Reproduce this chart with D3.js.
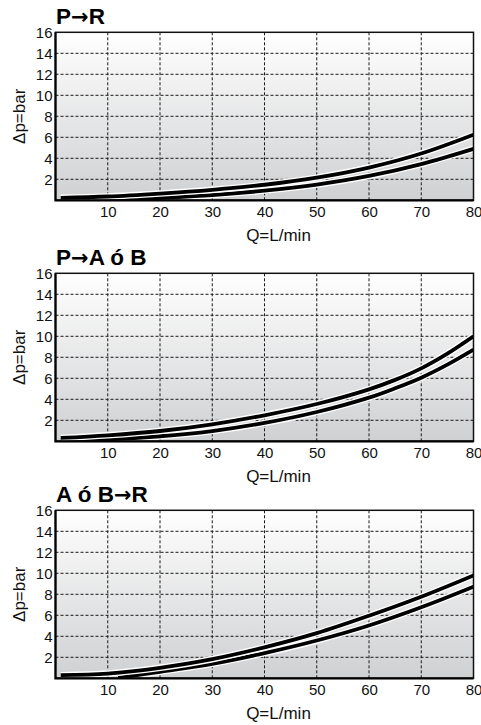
<!DOCTYPE html>
<html>
<head>
<meta charset="utf-8">
<script src="https://cdn.jsdelivr.net/npm/d3@7"></script>
<style>
  body { margin: 0; background: #fff; }
  svg { display: block; }
  text { font-family: "Liberation Sans", Arial, Helvetica, sans-serif; fill: #111; }
</style>
</head>
<body>
<svg id="chart" width="481" height="725"></svg>
<script>
// Axis ticks
const flowTicks = [10, 20, 30, 40, 50, 60, 70, 80];
const dpTicks = [2, 4, 6, 8, 10, 12, 14, 16];
const panelTitles = ["P→R", "P→A ó B", "A ó B→R"];

// Pressure drop curves: [Q (L/min), Δp (bar)]
const prHigh = [[1, 0.24], [10, 0.36], [20, 0.64], [30, 1.0], [40, 1.48], [50, 2.16], [60, 3.12], [70, 4.46], [80, 6.25]];
const prLow  = [[10, 0.0], [15, 0.1], [20, 0.22], [30, 0.5], [40, 0.92], [50, 1.5], [60, 2.32], [70, 3.45], [80, 4.9]];

const paHigh = [[1, 0.32], [10, 0.57], [20, 0.98], [30, 1.62], [40, 2.48], [50, 3.55], [60, 4.95], [65, 5.85], [70, 6.95], [75, 8.35], [80, 10.0]];
const paLow  = [[1, 0.1], [10, 0.19], [20, 0.48], [30, 0.98], [40, 1.75], [50, 2.79], [60, 4.16], [65, 5.05], [70, 6.06], [75, 7.3], [80, 8.73]];

const arHigh = [[1, 0.3], [10, 0.45], [20, 1.0], [30, 1.82], [40, 2.95], [50, 4.3], [60, 5.96], [70, 7.77], [80, 9.8]];
const arLow  = [[12, 0.03], [20, 0.62], [30, 1.38], [40, 2.4], [50, 3.6], [60, 5.03], [70, 6.76], [80, 8.72]];

const panelCurves = [[prLow, prHigh], [paLow, paHigh], [arLow, arHigh]];

// Layout
const plotLeft = 55.5, plotRight = 473.5, plotHeight = 168;
const panelTops = [32.3, 273.3, 510.3];

const svg = d3.select("#chart");
const defs = svg.append("defs");

const grad = defs.append("linearGradient")
  .attr("id", "plotShade")
  .attr("x1", 0).attr("y1", 0).attr("x2", 0).attr("y2", 1);
grad.append("stop").attr("offset", "0%").attr("stop-color", "#ffffff");
grad.append("stop").attr("offset", "100%").attr("stop-color", "#cfd0d2");

const x = d3.scaleLinear().domain([0, 80]).range([plotLeft, plotRight]);

panelTops.forEach((top, i) => {
  const bottom = top + plotHeight;
  const y = d3.scaleLinear().domain([0, 16]).range([bottom, top]);
  const g = svg.append("g");

  // shaded plot area
  g.append("rect")
    .attr("x", plotLeft).attr("y", top)
    .attr("width", plotRight - plotLeft).attr("height", plotHeight)
    .attr("fill", "url(#plotShade)");

  // dashed grid
  g.append("g").selectAll("line")
    .data(flowTicks.filter(d => d < 80))
    .join("line")
    .attr("x1", d => x(d)).attr("x2", d => x(d))
    .attr("y1", top).attr("y2", bottom)
    .attr("stroke", "#1a1a1a").attr("stroke-width", 1)
    .attr("stroke-dasharray", "3,2");

  g.append("g").selectAll("line")
    .data(dpTicks.filter(d => d < 16))
    .join("line")
    .attr("x1", plotLeft).attr("x2", plotRight)
    .attr("y1", d => y(d)).attr("y2", d => y(d))
    .attr("stroke", "#1a1a1a").attr("stroke-width", 1)
    .attr("stroke-dasharray", "3,2");

  // curves, clipped to the plot area
  const clipId = "clip" + i;
  defs.append("clipPath").attr("id", clipId)
    .append("rect")
    .attr("x", plotLeft).attr("y", top)
    .attr("width", plotRight - plotLeft).attr("height", plotHeight);

  const line = d3.line()
    .x(d => x(d[0]))
    .y(d => y(d[1]))
    .curve(d3.curveCatmullRom.alpha(0.5));

  const curves = g.append("g").attr("clip-path", `url(#${clipId})`);
  panelCurves[i].forEach(series => {
    curves.append("path")
      .attr("d", line(series))
      .attr("fill", "none")
      .attr("stroke", "#ffffff")
      .attr("stroke-width", 6.5);
    curves.append("path")
      .attr("d", line(series))
      .attr("fill", "none")
      .attr("stroke", "#000000")
      .attr("stroke-width", 3.8);
  });

  // frame
  g.append("rect")
    .attr("x", plotLeft).attr("y", top)
    .attr("width", plotRight - plotLeft).attr("height", plotHeight)
    .attr("fill", "none").attr("stroke", "#111").attr("stroke-width", 1.5);
  g.append("path")
    .attr("d", `M${plotLeft},${top}V${bottom}H${plotRight}`)
    .attr("fill", "none").attr("stroke", "#000").attr("stroke-width", 2.2);

  // axes (labels only)
  const xAxis = g.append("g")
    .attr("transform", `translate(0,${bottom})`)
    .call(d3.axisBottom(x).tickValues(flowTicks).tickSize(0).tickPadding(6));
  xAxis.select(".domain").remove();
  xAxis.selectAll("text")
    .attr("font-size", 15)
    .style("font-family", '"Liberation Sans", Arial, sans-serif')
    .attr("fill", "#111");

  const yAxis = g.append("g")
    .attr("transform", `translate(${plotLeft},0)`)
    .call(d3.axisLeft(y).tickValues(dpTicks).tickSize(0).tickPadding(3));
  yAxis.select(".domain").remove();
  yAxis.selectAll("text")
    .attr("font-size", 15)
    .style("font-family", '"Liberation Sans", Arial, sans-serif')
    .attr("fill", "#111");

  // axis titles
  g.append("text")
    .attr("x", (plotLeft + plotRight) / 2 + 14)
    .attr("y", bottom + 41)
    .attr("text-anchor", "middle")
    .attr("font-size", 17)
    .text("Q=L/min");

  g.append("text")
    .attr("transform", `translate(25,${(top + bottom) / 2}) rotate(-90)`)
    .attr("text-anchor", "middle")
    .attr("font-size", 17)
    .text("Δp=bar");

  // panel title; the arrow uses DejaVu for a full-width glyph
  const title = g.append("text")
    .attr("x", plotLeft + 0.5)
    .attr("y", top - 8.4)
    .attr("font-size", 22.5)
    .attr("font-weight", "bold")
    .attr("fill", "#000");
  panelTitles[i].split(/(→)/).filter(s => s.length).forEach(part => {
    const span = title.append("tspan").text(part).attr("fill", "#000");
    if (part === "→") span.style("font-family", '"DejaVu Sans", sans-serif').attr("font-size", 21);
  });
});
</script>
</body>
</html>
